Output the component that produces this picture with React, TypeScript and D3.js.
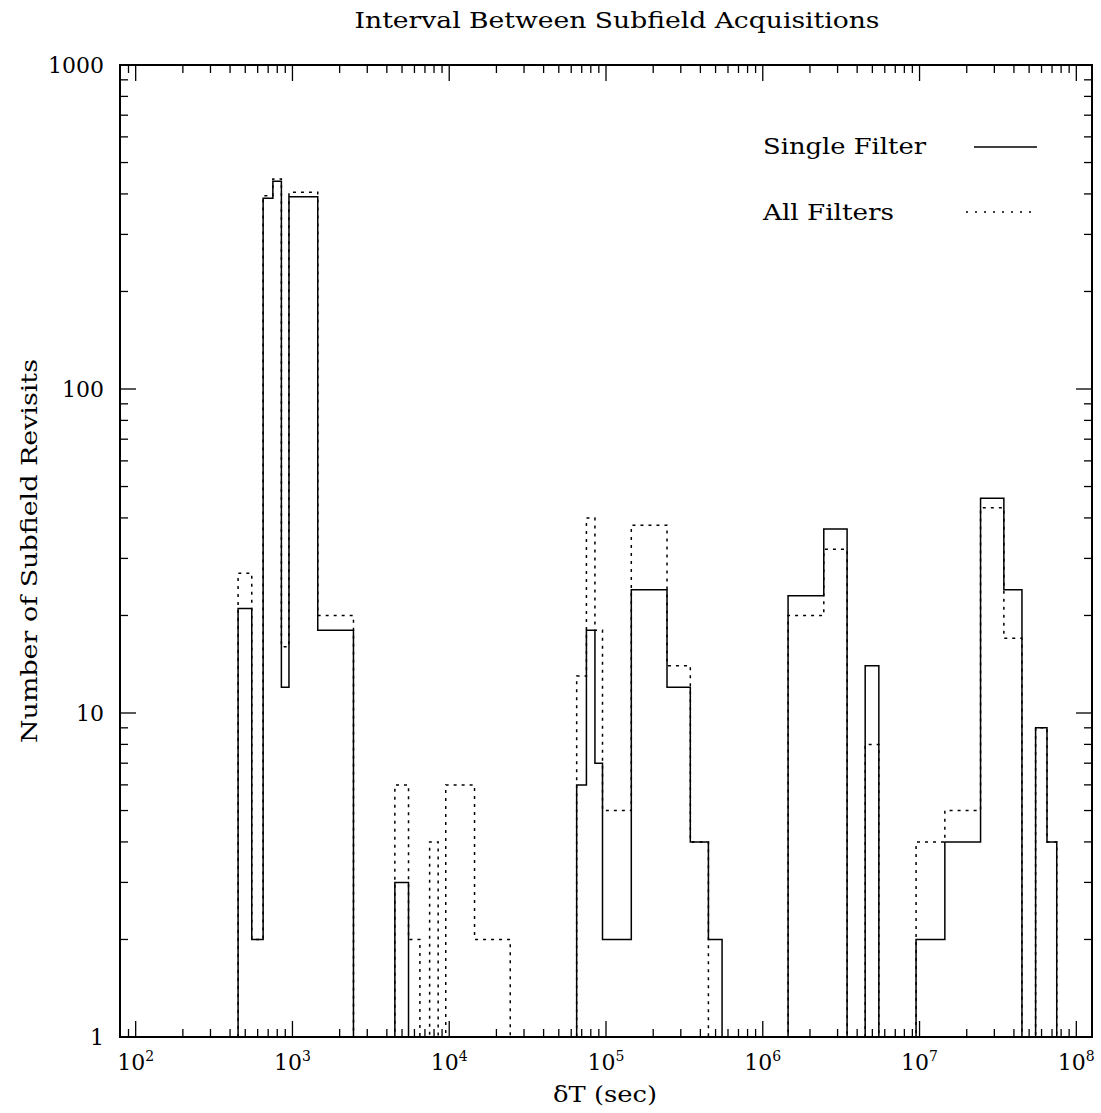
import React from "react";
import * as d3 from "d3";

// Histogram bin edges (seconds)
const binEdges = [
  450, 550, 650, 750, 850, 950, 1450, 2450, 3450,
  4500, 5500, 6500, 7500, 8500, 9500, 14500, 24500, 34500,
  45000, 55000, 65000, 75000, 85000, 95000, 145000, 245000, 345000,
  450000, 550000, 650000, 750000, 850000, 950000, 1450000, 2450000, 3450000,
  4500000, 5500000, 6500000, 7500000, 8500000, 9500000, 14500000, 24500000, 34500000,
  45000000, 55000000, 65000000, 75000000,
];

// Counts per bin
const singleFilter = [
  21, 2, 388, 438, 12, 392, 18, 0, 0,
  3, 0, 0, 0, 0, 0, 0, 0, 0,
  0, 0, 6, 18, 7, 2, 24, 12, 4,
  2, 0, 0, 0, 0, 0, 23, 37, 0,
  14, 0, 0, 0, 0, 2, 4, 46, 24,
  0, 9, 4,
];

const allFilters = [
  27, 2, 395, 445, 16, 405, 20, 0, 0,
  6, 2, 0, 4, 0, 6, 2, 0, 0,
  0, 0, 13, 40, 18, 5, 38, 14, 4,
  0, 0, 0, 0, 0, 0, 20, 32, 0,
  8, 0, 0, 0, 0, 4, 5, 43, 17,
  0, 9, 4,
];

const xMajorExponents = [2, 3, 4, 5, 6, 7, 8];
const yMajorLabels = ["1", "10", "100", "1000"];
const titleText = "Interval Between Subfield Acquisitions";
const xLabelText = "δT (sec)";
const yLabelText = "Number of Subfield Revisits";
const legendLabels = ["Single Filter", "All Filters"];

const W = 1101;
const H = 1113;
const L = 120, R = 1092, T = 65, B = 1037;
const FONT = "DejaVu Serif";

export default function App() {
  const x = d3.scaleLog().domain([Math.pow(10, 1.9), Math.pow(10, 8.1)]).range([L, R]);
  const y = d3.scaleLog().domain([1, 1000]).range([B, T]);

  const stepPath = (counts: number[]) => {
    const pts: [number, number][] = [];
    pts.push([binEdges[0], 1]);
    counts.forEach((c, i) => pts.push([binEdges[i], Math.max(c, 1)]));
    pts.push([binEdges[binEdges.length - 1], Math.max(counts[counts.length - 1], 1)]);
    pts.push([binEdges[binEdges.length - 1], 1]);
    const line = d3
      .line<[number, number]>()
      .x((d) => x(d[0]))
      .y((d) => y(d[1]))
      .curve(d3.curveStepAfter);
    return line(pts) || "";
  };

  const xTicks = x.ticks();
  const yTicks = y.ticks();
  const isMajor = (v: number) => Math.abs(Math.log10(v) - Math.round(Math.log10(v))) < 1e-9;
  const MAJ = 16, MIN = 8;

  return (
    <svg
      width={W}
      height={H}
      style={{ position: "absolute", left: 0, top: 0, background: "#fff" }}
      fontFamily={FONT}
    >
      <rect x={0} y={0} width={W} height={H} fill="#fff" />
      <defs>
        <clipPath id="plotclip">
          <rect x={L} y={T} width={R - L} height={B - T} />
        </clipPath>
      </defs>

      {/* histograms */}
      <g clipPath="url(#plotclip)" fill="none" stroke="#000">
        <path d={stepPath(allFilters)} strokeWidth={1.5} strokeDasharray="3,5" />
        <path d={stepPath(singleFilter)} strokeWidth={1.5} />
      </g>

      {/* ticks */}
      <g stroke="#000" strokeWidth={1.3}>
        {xTicks
          .filter((v) => x(v) > L + 0.5 && x(v) < R - 0.5)
          .map((v, i) => {
            const len = isMajor(v) ? MAJ : MIN;
            const px = x(v);
            return (
              <g key={"xt" + i}>
                <line x1={px} x2={px} y1={B} y2={B - len} />
                <line x1={px} x2={px} y1={T} y2={T + len} />
              </g>
            );
          })}
        {yTicks
          .filter((v) => y(v) < B - 0.5 && y(v) > T + 0.5)
          .map((v, i) => {
            const len = isMajor(v) ? MAJ : MIN;
            const py = y(v);
            return (
              <g key={"yt" + i}>
                <line x1={L} x2={L + len} y1={py} y2={py} />
                <line x1={R} x2={R - len} y1={py} y2={py} />
              </g>
            );
          })}
      </g>

      {/* frame */}
      <rect x={L} y={T} width={R - L} height={B - T} fill="none" stroke="#000" strokeWidth={2} />

      {/* x tick labels */}
      <g fontSize={22} fill="#000">
        {xMajorExponents.map((e) => (
          <text key={"xl" + e} x={x(Math.pow(10, e))} y={1070} textAnchor="middle">
            10
            <tspan dy={-9} fontSize={14}>
              {String(e)}
            </tspan>
          </text>
        ))}
        {yMajorLabels.map((lab) => (
          <text key={"yl" + lab} x={104} y={y(+lab) + 8} textAnchor="end">
            {lab}
          </text>
        ))}
      </g>

      {/* title */}
      <text x={617} y={28} fontSize={22} textAnchor="middle" textLength={525} lengthAdjust="spacingAndGlyphs">
        {titleText}
      </text>

      {/* axis labels */}
      <text x={605} y={1102} fontSize={22} textAnchor="middle" textLength={104} lengthAdjust="spacingAndGlyphs">
        {xLabelText}
      </text>
      <text
        transform={`translate(37, ${(T + B) / 2}) rotate(-90)`}
        fontSize={22}
        textAnchor="middle"
        textLength={384}
        lengthAdjust="spacingAndGlyphs"
      >
        {yLabelText}
      </text>

      {/* legend */}
      <text x={763} y={154} fontSize={22} textLength={163} lengthAdjust="spacingAndGlyphs">
        {legendLabels[0]}
      </text>
      <text x={763} y={220} fontSize={22} textLength={131} lengthAdjust="spacingAndGlyphs">
        {legendLabels[1]}
      </text>
      <line x1={974} x2={1037} y1={147} y2={147} stroke="#000" strokeWidth={1.5} />
      <line x1={966} x2={1037} y1={212} y2={212} stroke="#000" strokeWidth={1.5} strokeDasharray="2,7" />
    </svg>
  );
}
